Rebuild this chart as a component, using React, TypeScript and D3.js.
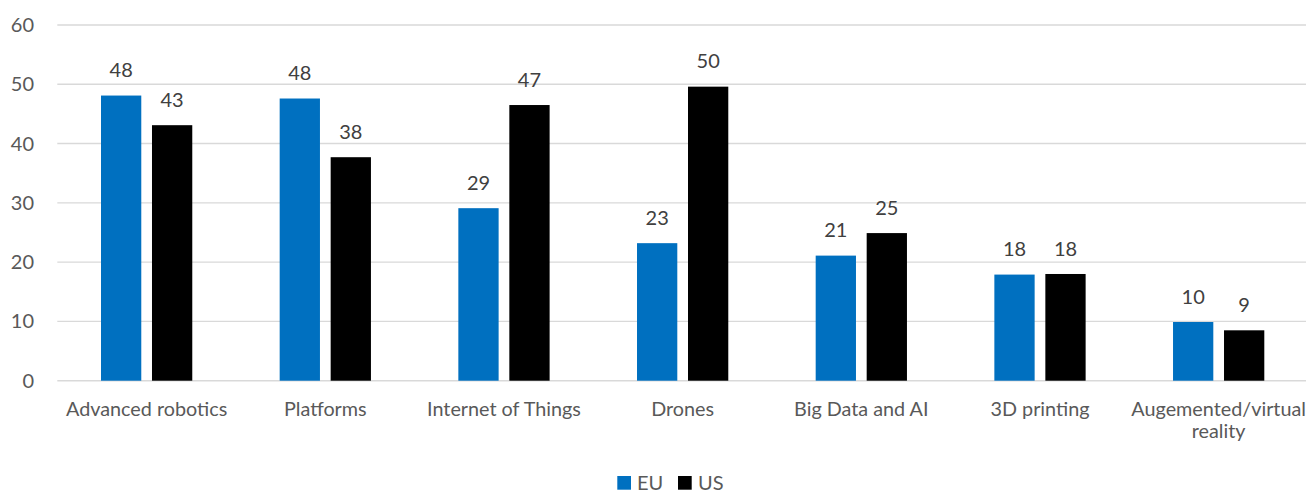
import React from "react";
import * as d3 from "d3";

const categories = [
  "Advanced robotics",
  "Platforms",
  "Internet of Things",
  "Drones",
  "Big Data and AI",
  "3D printing",
  "Augemented/virtual reality",
];
const seriesNames = ["EU", "US"];
const euValues = [48.1, 47.6, 29.1, 23.2, 21.1, 17.9, 9.9];
const usValues = [43.1, 37.7, 46.5, 49.6, 24.9, 18.0, 8.5];
const euLabels = ["48", "48", "29", "23", "21", "18", "10"];
const usLabels = ["43", "38", "47", "50", "25", "18", "9"];
const yTicks = [0, 10, 20, 30, 40, 50, 60];
const colors = ["#0070C0", "#000000"];

const W = 1310;
const H = 493;
const FONT = "Lato, 'Open Sans', sans-serif";

function wrapLabel(label: string): string[] {
  if (label === "Augemented/virtual reality") return ["Augemented/virtual", "reality"];
  return [label];
}

export default function App() {
  const y = d3.scaleLinear().domain([0, 60]).range([380.7, 25]);
  const x = d3.scaleBand<string>().domain(categories).range([57.3, 1308]).padding(0);
  const xs = d3
    .scaleBand<string>()
    .domain(seriesNames)
    .range([0, x.bandwidth()])
    .paddingInner(0.21)
    .paddingOuter(0.857);
  const series = [
    { name: "EU", values: euValues, labels: euLabels, color: colors[0] },
    { name: "US", values: usValues, labels: usLabels, color: colors[1] },
  ];
  return (
    <svg
      width={W}
      height={H}
      style={{ position: "absolute", left: 0, top: 0, background: "#fff" }}
      fontFamily={FONT}
    >
      <rect x={0} y={0} width={W} height={H} fill="#fff" />
      {yTicks.map((t) => (
        <g key={t}>
          <line x1={57.3} x2={1306} y1={y(t)} y2={y(t)} stroke="#d9d9d9" strokeWidth={1.4} />
          <text
            x={34}
            y={y(t)}
            dy="0.35em"
            textAnchor="end"
            fontSize={20}
            fill="#595959"
          >
            {t}
          </text>
        </g>
      ))}
      {series.map((s) =>
        categories.map((c, i) => {
          const bx = (x(c) as number) + (xs(s.name) as number);
          const bw = xs.bandwidth();
          return (
            <g key={s.name + c}>
              <rect x={bx} y={y(s.values[i])} width={bw} height={y(0) - y(s.values[i])} fill={s.color} />
              <text
                x={bx + bw / 2}
                y={y(s.values[i]) - 18.4}
                textAnchor="middle"
                fontSize={20}
                fill="#404040"
              >
                {s.labels[i]}
              </text>
            </g>
          );
        })
      )}
      {categories.map((c) => {
        const cx = (x(c) as number) + x.bandwidth() / 2;
        return (
          <text key={c} x={cx} y={415.5} textAnchor="middle" fontSize={19.8} fill="#595959">
            {wrapLabel(c).map((line, j) => (
              <tspan key={j} x={cx} dy={j === 0 ? 0 : 22}>
                {line}
              </tspan>
            ))}
          </text>
        );
      })}
      <g>
        <rect x={617.3} y={476} width={13.7} height={13.7} fill={colors[0]} />
        <text x={637} y={489.5} fontSize={20} fill="#595959">EU</text>
        <rect x={678} y={476} width={13.7} height={13.7} fill={colors[1]} />
        <text x={698} y={489.5} fontSize={20} fill="#595959">US</text>
      </g>
    </svg>
  );
}
